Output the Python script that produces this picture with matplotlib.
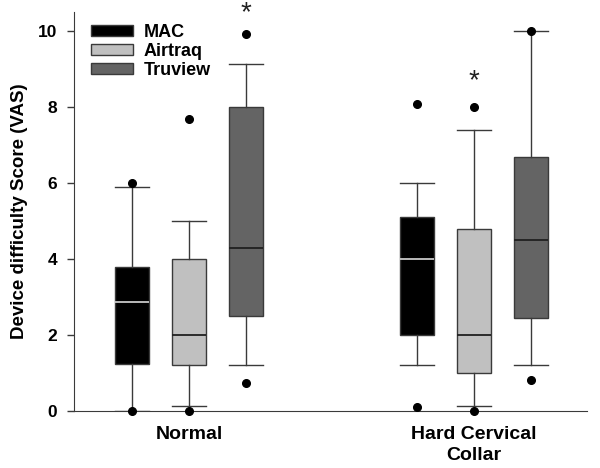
import numpy as np
import matplotlib
matplotlib.use('Agg')
import matplotlib.pyplot as plt
from matplotlib.patches import Patch

plt.rcParams['font.family'] = ['Liberation Sans', 'DejaVu Sans']

# Box plot statistics (VAS score)
groups = ['Normal', 'Hard Cervical\nCollar']
devices = ['MAC', 'Airtraq', 'Truview']

q1 = {'MAC': [1.25, 2.0], 'Airtraq': [1.2, 1.0], 'Truview': [2.5, 2.46]}
med = {'MAC': [2.88, 4.0], 'Airtraq': [2.0, 2.0], 'Truview': [4.3, 4.5]}
q3 = {'MAC': [3.8, 5.1], 'Airtraq': [4.0, 4.8], 'Truview': [8.0, 6.7]}
whislo = {'MAC': [0.0, 1.2], 'Airtraq': [0.12, 0.12], 'Truview': [1.2, 1.2]}
whishi = {'MAC': [5.9, 6.0], 'Airtraq': [5.0, 7.4], 'Truview': [9.15, 10.0]}
fliers = {'MAC': [[6.0, 0.0], [8.08, 0.1]],
          'Airtraq': [[7.7, 0.0], [8.0, 0.0]],
          'Truview': [[9.93, 0.73], [10.0, 0.82]]}

# significance marks: group index, device, height of the star
star_group = [0, 1]
star_device = ['Truview', 'Airtraq']
star_y = [10.62, 8.82]

fill = {'MAC': '#000000', 'Airtraq': '#c0c0c0', 'Truview': '#646464'}
median_col = {'MAC': '#c8c8c8', 'Airtraq': '#202020', 'Truview': '#202020'}
offsets = {'MAC': -0.2, 'Airtraq': 0.0, 'Truview': 0.2}
edge = '#3a3a3a'

fig = plt.figure(figsize=(6, 4.68), dpi=100)
ax = fig.add_axes([0.1233, 0.1218, 0.855, 0.852])

for d in devices:
    stats = []
    for g in range(len(groups)):
        stats.append(dict(med=med[d][g], q1=q1[d][g], q3=q3[d][g],
                          whislo=whislo[d][g], whishi=whishi[d][g],
                          fliers=fliers[d][g]))
    pos = [g + 1 + offsets[d] for g in range(len(groups))]
    art = ax.bxp(stats, positions=pos, widths=0.12, patch_artist=True,
                 showfliers=True, manage_ticks=False,
                 boxprops=dict(facecolor=fill[d], edgecolor=edge, linewidth=1.0),
                 medianprops=dict(color=median_col[d], linewidth=1.3),
                 whiskerprops=dict(color=edge, linewidth=1.0),
                 capprops=dict(color=edge, linewidth=1.0),
                 capwidths=0.12,
                 flierprops=dict(marker='o', markerfacecolor='black',
                                 markeredgecolor='black', markersize=5.5))
    for fl in art['fliers']:
        fl.set_clip_on(False)
        fl.set_zorder(5)

# asterisk glyph centre sits ~0.33 data units above its baseline at 20pt
for g, d, y in zip(star_group, star_device, star_y):
    ax.text(g + 1 + offsets[d], y - 0.33, '*', ha='center', va='baseline',
            fontsize=20, color='#202020', clip_on=False)

ax.set_xlim(0.597, 2.396)
ax.set_ylim(0, 10.5)
ax.set_yticks([0, 2, 4, 6, 8, 10])
ax.set_xticks([1, 2])
ax.set_xticklabels(groups, fontsize=14, fontweight='bold', linespacing=1.3)
ax.tick_params(axis='x', length=0, pad=11)
ax.tick_params(axis='y', length=5, width=1, color=edge, direction='out', pad=7,
               labelsize=12.5)
for lab in ax.get_yticklabels():
    lab.set_fontweight('bold')
ax.set_ylabel('Device difficulty Score (VAS)', fontsize=13.5, fontweight='bold',
              labelpad=7)
ax.spines['top'].set_visible(False)
ax.spines['right'].set_visible(False)
ax.spines['left'].set_color(edge)
ax.spines['bottom'].set_color(edge)

handles = [Patch(facecolor=fill[d], edgecolor=edge, label=d) for d in devices]
ax.legend(handles=handles, loc='upper left', bbox_to_anchor=(0.033, 0.97),
          frameon=False, prop=dict(weight='bold', size=13),
          borderpad=0, borderaxespad=0,
          handlelength=2.33, handleheight=0.55, handletextpad=0.6,
          labelspacing=0.1)

fig.savefig('out.png', dpi=100)
